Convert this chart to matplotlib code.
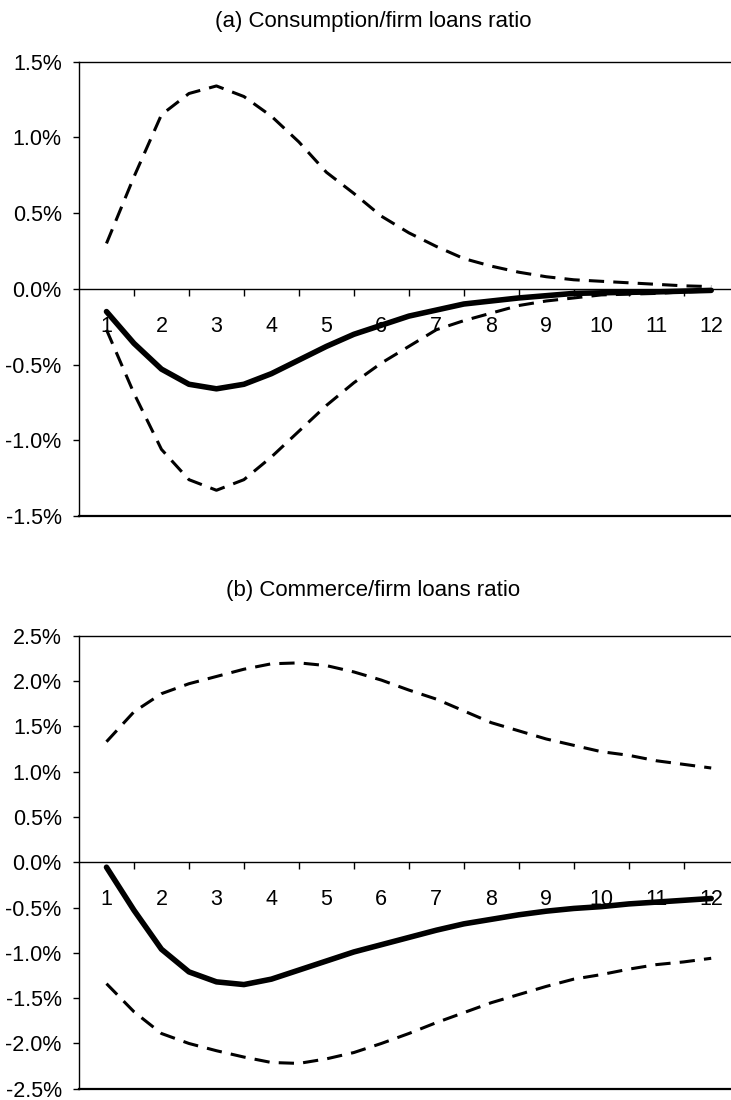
import numpy as np
import matplotlib
matplotlib.use("Agg")
import matplotlib.pyplot as plt
from matplotlib.ticker import FuncFormatter, MultipleLocator

plt.rcParams['font.family'] = ['Liberation Sans', 'DejaVu Sans']

# PERIODS (read at half steps off the figure)
periods = [1, 1.5, 2, 2.5, 3, 3.5, 4, 4.5, 5, 5.5, 6, 6.5,
           7, 7.5, 8, 8.5, 9, 9.5, 10, 10.5, 11, 11.5, 12]
period_labels = ['1', '2', '3', '4', '5', '6', '7', '8', '9', '10', '11', '12']

# (a) CONSUMPTION / FIRM LOANS RATIO, in %
cons_resp = [-0.15, -0.36, -0.53, -0.63, -0.66, -0.63, -0.56, -0.47, -0.38, -0.30, -0.24, -0.18,
             -0.14, -0.10, -0.08, -0.06, -0.045, -0.03, -0.026, -0.023, -0.02, -0.015, -0.01]
cons_upper = [0.30, 0.74, 1.15, 1.29, 1.34, 1.27, 1.14, 0.97, 0.77, 0.63, 0.48, 0.37,
              0.28, 0.20, 0.15, 0.11, 0.08, 0.06, 0.05, 0.04, 0.03, 0.02, 0.015]
cons_lower = [-0.27, -0.69, -1.06, -1.26, -1.33, -1.26, -1.11, -0.94, -0.77, -0.62, -0.49, -0.38,
              -0.27, -0.21, -0.16, -0.11, -0.08, -0.06, -0.04, -0.035, -0.03, -0.02, -0.015]

# (b) COMMERCE / FIRM LOANS RATIO, in %
comm_resp = [-0.055, -0.53, -0.96, -1.21, -1.32, -1.35, -1.29, -1.19, -1.09, -0.99, -0.91, -0.83,
             -0.75, -0.68, -0.63, -0.58, -0.54, -0.51, -0.49, -0.46, -0.44, -0.42, -0.40]
comm_upper = [1.33, 1.66, 1.86, 1.97, 2.05, 2.13, 2.19, 2.20, 2.17, 2.10, 2.01, 1.90,
              1.80, 1.67, 1.54, 1.45, 1.36, 1.29, 1.22, 1.18, 1.12, 1.08, 1.04]
comm_lower = [-1.34, -1.65, -1.89, -2.00, -2.08, -2.15, -2.21, -2.22, -2.17, -2.10, -2.00, -1.89,
              -1.77, -1.66, -1.55, -1.46, -1.37, -1.29, -1.24, -1.18, -1.13, -1.10, -1.06]

fig = plt.figure(figsize=(7.31, 11), dpi=100)


def panel(rect, title, title_y, resp, upper, lower, ylim):
    ax = fig.add_axes(rect)
    ax.plot(periods, upper, color='black', lw=2.2, dashes=(5, 3), solid_joinstyle='round')
    ax.plot(periods, lower, color='black', lw=2.2, dashes=(5, 3), solid_joinstyle='round')
    ax.plot(periods, resp, color='black', lw=4.0, solid_capstyle='round', solid_joinstyle='round')

    ax.set_xlim(0.5, 12.36)
    ax.set_ylim(-ylim, ylim)

    # x axis sits on zero, labels hang below it
    ax.spines['bottom'].set_position(('data', 0))
    ax.spines['right'].set_visible(False)
    for s in ['left', 'top', 'bottom']:
        ax.spines[s].set_linewidth(1.0)
    ax.axhline(-ylim, color='black', lw=1.6, clip_on=False)

    ax.set_xticks(range(1, 13))
    ax.set_xticklabels(period_labels)
    ax.set_xticks([k + 0.5 for k in range(1, 12)], minor=True)
    ax.tick_params(axis='x', which='major', length=0, pad=19.5, labelsize=15.5)
    ax.tick_params(axis='x', which='minor', length=5, width=1.0, direction='out')

    ax.yaxis.set_major_locator(MultipleLocator(0.5))
    ax.yaxis.set_major_formatter(FuncFormatter(lambda v, p: '%.1f%%' % v))
    ax.tick_params(axis='y', length=4.5, width=1.0, direction='out', pad=8, labelsize=15.5)

    fig.text(0.51, title_y, title, ha='center', va='center', fontsize=16)
    return ax


panel([79/731, 0.5309, 1 - 79/731, 0.4130], '(a) Consumption/firm loans ratio', 0.980,
      cons_resp, cons_upper, cons_lower, 1.5)
panel([79/731, 0.0102, 1 - 79/731, 0.4119], '(b) Commerce/firm loans ratio', 0.4636,
      comm_resp, comm_upper, comm_lower, 2.5)

plt.savefig('out.png', dpi=100)
